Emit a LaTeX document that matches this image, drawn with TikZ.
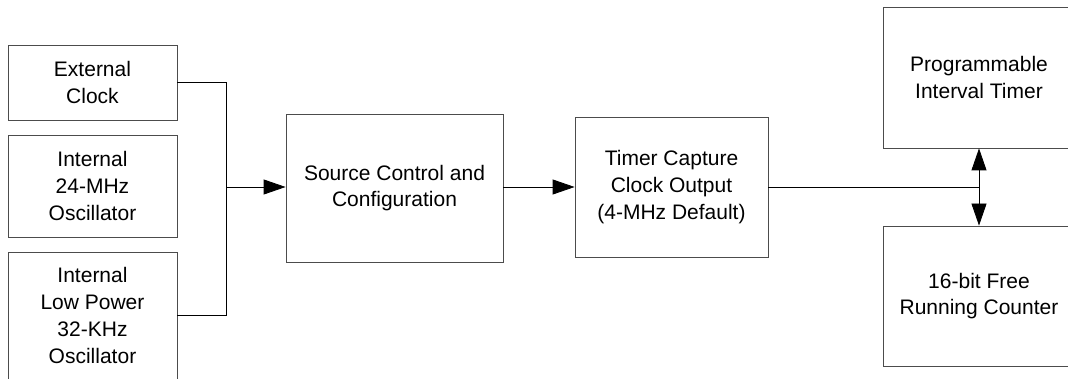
\documentclass[tikz,border=0pt]{standalone}
\usepackage{fontspec}
\setmainfont{Liberation Sans}
\usetikzlibrary{arrows.meta}

\definecolor{boxline}{gray}{0.3}
\tikzset{
  block/.style={draw=boxline, line width=0.8pt, inner sep=0pt, align=center,
                font=\fontsize{21}{26.7}\selectfont},
  flow/.style={line width=0.8pt, -{Triangle[length=22pt,width=15pt]}}
}

\begin{document}
\begin{tikzpicture}[x=1pt, y=-1pt]
      \useasboundingbox (0,0) rectangle (1068,379);

      % Clock sources
      \node[block, minimum width=169pt, minimum height=75pt] (ext) at (92.5, 82.5) {External\\Clock};
      \node[block, minimum width=169pt, minimum height=102pt] (mhz) at (92.5, 186) {Internal\\24-MHz\\Oscillator};
      \node[block, minimum width=169pt, minimum height=127pt] (lowpwr) at (92.5, 315.5) {Internal\\Low Power\\32-KHz\\Oscillator};

      % Source Control and Configuration
      \node[block, minimum width=217pt, minimum height=148pt] (src) at (394.5, 188) {Source Control and\\Configuration};

      % Timer Capture Clock Output
      \node[block, minimum width=193pt, minimum height=140pt] (tmr) at (671.5, 187) {Timer Capture\\Clock Output\\(4-MHz Default)};

      % Timer and Counter
      \node[block, minimum width=192pt, minimum height=141pt] (pit) at (979, 77.5) {Programmable\\Interval Timer};
      \node[block, minimum width=192pt, minimum height=140pt] (frc) at (979, 296) {16-bit Free\\Running Counter};

      % Connectors
      \coordinate (join) at (226, 187);
      \coordinate (tap) at (979, 187);
      \draw[line width=0.8pt] (ext.east) -| (join);
      \draw[line width=0.8pt] (lowpwr.east) -| (join);
      \draw[flow] (join) -- (join -| src.west);
      \draw[flow] (src.east |- join) -- (join -| tmr.west);
      \draw[line width=0.8pt] (tmr.east |- tap) -- (tap);
      \draw[flow] (tap) -- (pit.south);
      \draw[flow] (tap) -- (frc.north);

\end{tikzpicture}
\end{document}
